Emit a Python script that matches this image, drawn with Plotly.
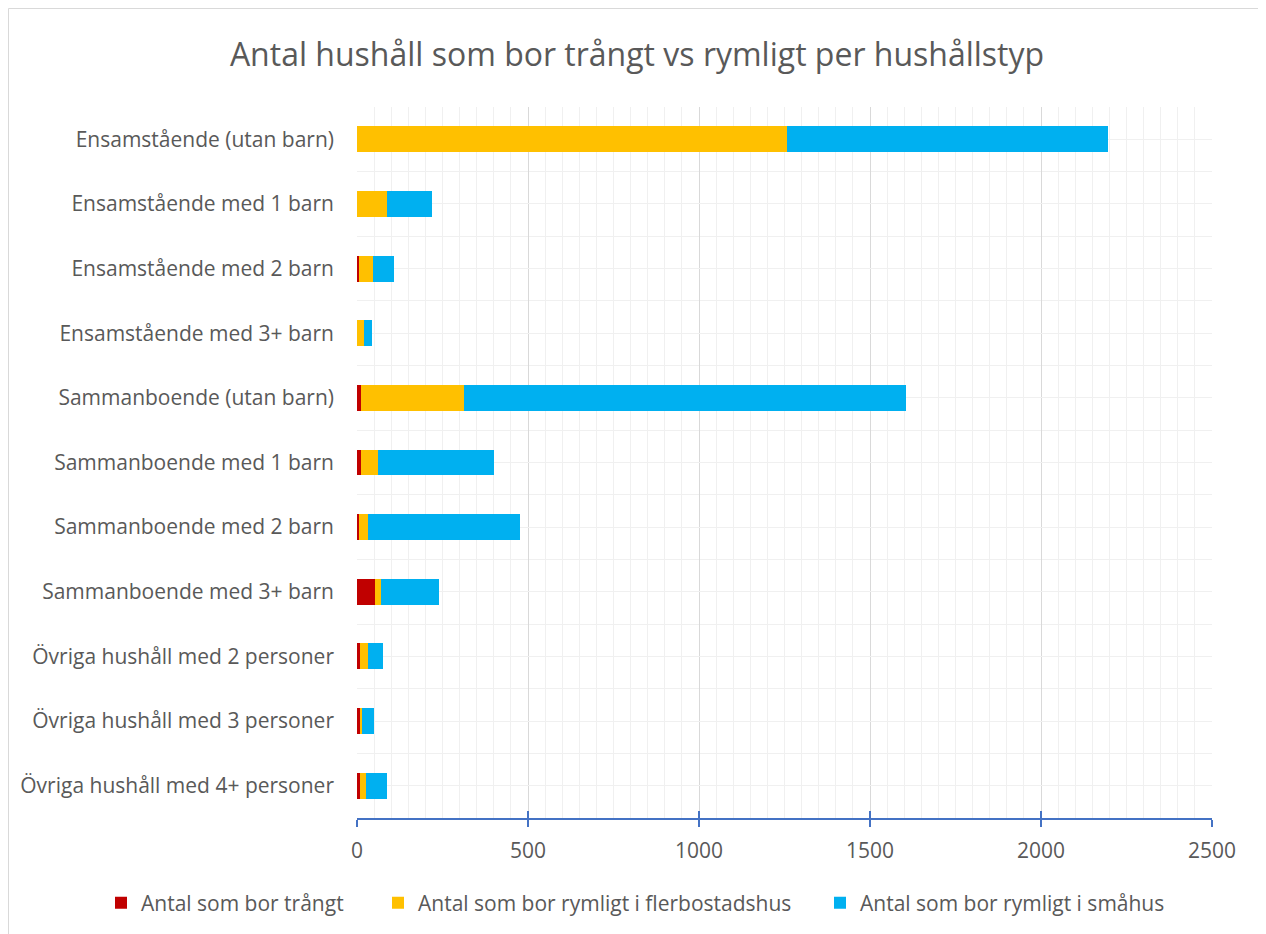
import plotly.graph_objects as go

categories = [
    "Ensamstående (utan barn)",
    "Ensamstående med 1 barn",
    "Ensamstående med 2 barn",
    "Ensamstående med 3+ barn",
    "Sammanboende (utan barn)",
    "Sammanboende med 1 barn",
    "Sammanboende med 2 barn",
    "Sammanboende med 3+ barn",
    "Övriga hushåll med 2 personer",
    "Övriga hushåll med 3 personer",
    "Övriga hushåll med 4+ personer",
]
trangt = [0, 0, 5, 0, 12, 13, 7, 52, 10, 10, 10]
flerbostadshus = [1258, 88, 42, 19, 302, 49, 25, 17, 23, 5, 16]
smahus = [938, 132, 62, 26, 1292, 340, 446, 170, 42, 34, 62]

series_names = [
    "Antal som bor trångt",
    "Antal som bor rymligt i flerbostadshus",
    "Antal som bor rymligt i småhus",
]
colors = ["#C00000", "#FFC000", "#00B0F0"]
x_ticks = [0, 500, 1000, 1500, 2000, 2500]

positions = list(range(len(categories)))
FONT = "Open Sans"
GREY = "#595959"
AXIS_BLUE = "#4472C4"

W, H = 1258, 926
ML, MR, MT, MB = 349, 54, 99, 116
PW, PH = W - ML - MR, H - MT - MB

legend_ids = ["legend", "legend2", "legend3"]
legend_left_px = [93, 370, 812]

fig = go.Figure()
for name, vals, col, lid in zip(series_names, [trangt, flerbostadshus, smahus], colors, legend_ids):
    fig.add_trace(go.Bar(
        y=positions, x=vals, name=name, orientation="h",
        marker=dict(color=col, line=dict(width=0)),
        legend=lid,
    ))

legend_common = dict(orientation="h", xref="container", yref="container",
                     xanchor="left", yanchor="middle", y=1 - 895 / H,
                     font=dict(family=FONT, size=21, color=GREY),
                     bgcolor="rgba(0,0,0,0)", borderwidth=0)

fig.update_layout(
    barmode="stack",
    bargap=0.6,
    width=W, height=H,
    paper_bgcolor="white", plot_bgcolor="white",
    margin=dict(l=ML, r=MR, t=MT, b=MB),
    title=dict(text="Antal hushåll som bor trångt vs rymligt per hushållstyp",
               x=0.5, xref="container", y=1 - 47 / H, yref="container",
               xanchor="center", yanchor="middle",
               font=dict(family=FONT, size=32, color=GREY)),
    font=dict(family=FONT, color=GREY),
    legend=dict(x=legend_left_px[0] / W, **legend_common),
    legend2=dict(x=legend_left_px[1] / W, **legend_common),
    legend3=dict(x=legend_left_px[2] / W, **legend_common),
    showlegend=True,
)

fig.update_layout(
    xaxis=dict(
        range=[0, 2500], tickvals=x_ticks, ticktext=[str(v) for v in x_ticks],
        showgrid=True, gridcolor="#D9D9D9", gridwidth=1,
        minor=dict(dtick=50, tick0=0, showgrid=True, gridcolor="#F0F0F0", gridwidth=1),
        showline=True, linecolor=AXIS_BLUE, linewidth=1.5,
        ticks="outside", tickcolor=AXIS_BLUE, ticklen=7, tickwidth=1.5,
        ticklabelstandoff=6,
        tickfont=dict(family=FONT, size=21, color=GREY),
        zeroline=False, fixedrange=True,
    ),
    xaxis2=dict(
        range=[0, 2500], tickvals=x_ticks, overlaying="x", side="bottom",
        anchor="y", showgrid=False, showline=False, zeroline=False,
        ticks="inside", tickcolor=AXIS_BLUE, ticklen=7, tickwidth=1.5,
        showticklabels=False,
    ),
    yaxis=dict(
        range=[len(categories) - 0.5, -0.5],
        tickvals=positions, ticktext=categories,
        showgrid=True, gridcolor="#F0F0F0", gridwidth=1,
        minor=dict(tick0=0.5, dtick=1, showgrid=True, gridcolor="#F0F0F0", gridwidth=1),
        ticks="", ticklabelstandoff=22,
        tickfont=dict(family=FONT, size=21, color=GREY),
        zeroline=False, showline=False,
    ),
)
# invisible helper trace so the overlaid axis (inner tick halves) is drawn
fig.add_trace(go.Scatter(x=[None], y=[None], xaxis="x2", yaxis="y",
                         showlegend=False, hoverinfo="skip"))

# outer chart border
fig.add_shape(type="rect", xref="paper", yref="paper",
              x0=(0.5 - ML) / PW, x1=(1252 - ML) / PW,
              y0=(MT + PH - 940) / PH, y1=(MT + PH - 0.5) / PH,
              line=dict(color="#D9D9D9", width=1), fillcolor="rgba(0,0,0,0)",
              layer="below")

fig.write_html("out.html")
